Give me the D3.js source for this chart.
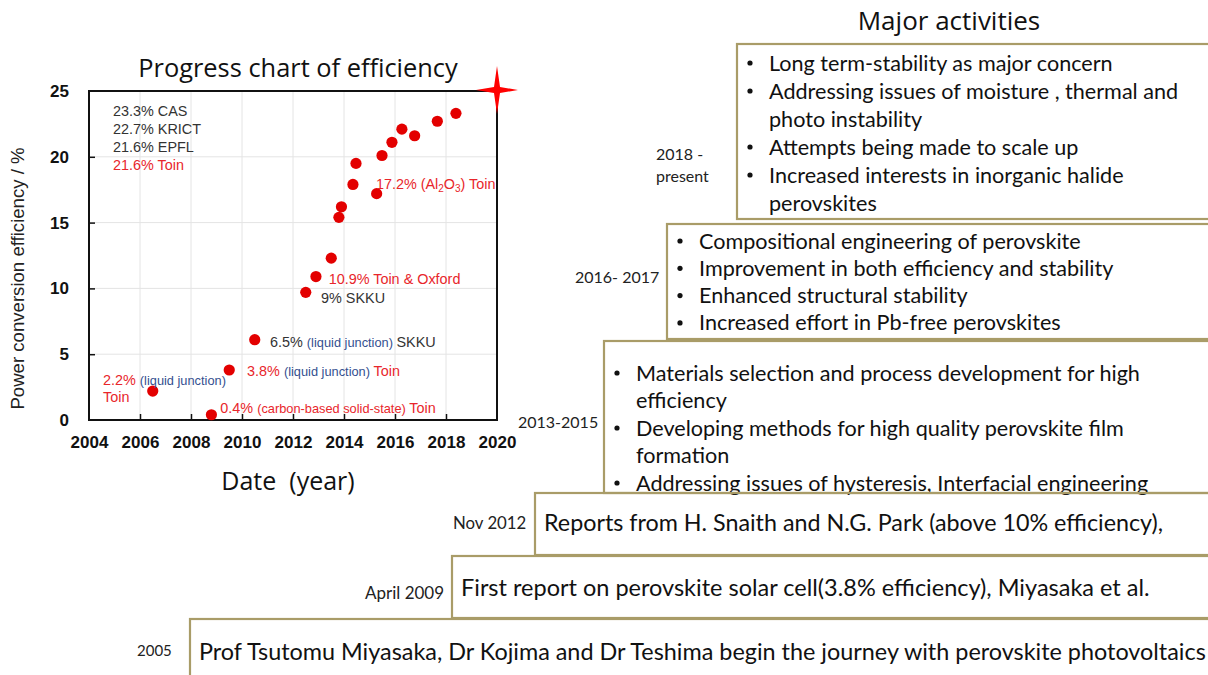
<!DOCTYPE html>
<html>
<head>
<meta charset="utf-8">
<script src="https://cdn.jsdelivr.net/npm/d3@7"></script>
<style>
  body { margin: 0; background: #fff; }
  svg { display: block; }
</style>
</head>
<body>
<script>
// efficiency records (year, %)
var years = [2006.5, 2008.8, 2009.5, 2010.5, 2012.5, 2012.9, 2013.5, 2013.8, 2013.9, 2014.35,
             2014.47, 2015.28, 2015.49, 2015.88, 2016.27, 2016.77, 2017.66, 2018.39];
var effs  = [2.2, 0.4, 3.8, 6.1, 9.7, 10.9, 12.3, 15.4, 16.2, 17.9,
             19.5, 17.2, 20.1, 21.1, 22.1, 21.6, 22.7, 23.3];

var xTicks = [2004, 2006, 2008, 2010, 2012, 2014, 2016, 2018, 2020];
var yTicks = [0, 5, 10, 15, 20, 25];

// record list in upper left corner
var records = ["23.3% CAS", "22.7% KRICT", "21.6% EPFL", "21.6% Toin"];
var recordRed = [false, false, false, true];

// annotations: [year, value, parts]  part = [text, kind]
var notes = [
  [2015.25, 17.9, [["17.2% (Al", "r"], ["2", "rsub"], ["O", "r"], ["3", "rsub"], [") Toin", "r"]]],
  [2013.4, 10.7, [["10.9% Toin & Oxford", "r"]]],
  [2013.1, 9.25, [["9% SKKU", "k"]]],
  [2011.1, 5.95, [["6.5% ", "k"], ["(liquid junction) ", "b"], ["SKKU", "k"]]],
  [2010.2, 3.7, [["3.8% ", "r"], ["(liquid junction) ", "b"], ["Toin", "r"]]],
  [2004.55, 3.05, [["2.2% ", "r"], ["(liquid junction)", "b"]]],
  [2004.55, 1.75, [["Toin", "r"]]],
  [2009.15, 0.9, [["0.4% ", "r"], ["(carbon-based solid-state) ", "rs"], ["Toin", "r"]]]
];

// timeline steps
var stepLabels = [["2018 -", "present"], ["2016- 2017"], ["2013-2015"], ["Nov 2012"], ["April 2009"], ["2005"]];
var stepLines = [
  [["Long term-stability as major concern", 1], ["Addressing issues of moisture , thermal and", 1],
   ["photo instability", 0], ["Attempts being made to scale up", 1],
   ["Increased interests in inorganic halide", 1], ["perovskites", 0]],
  [["Compositional engineering of perovskite", 1], ["Improvement in both efficiency and stability", 1],
   ["Enhanced structural stability", 1], ["Increased effort in Pb-free perovskites", 1]],
  [["Materials selection and process development for high", 1], ["efficiency", 0],
   ["Developing methods for high quality perovskite film", 1], ["formation", 0],
   ["Addressing issues of hysteresis, Interfacial engineering", 1]],
  [["Reports from H. Snaith and N.G. Park (above 10% efficiency),", 0]],
  [["First report on perovskite solar cell(3.8% efficiency), Miyasaka et al.", 0]],
  [["Prof Tsutomu Miyasaka, Dr Kojima and Dr Teshima begin the journey with perovskite photovoltaics", 0]]
];

var W = 1208, H = 675;
var svg = d3.select("body").append("svg").attr("width", W).attr("height", H);

// ---------- left chart ----------
var plot = {left: 89, right: 497, top: 91, bottom: 420};
var x = d3.scaleLinear().domain([2004, 2020]).range([plot.left, plot.right]);
var y = d3.scaleLinear().domain([0, 25]).range([plot.bottom, plot.top]);

var chartFont = "'Liberation Sans', Arial, sans-serif";

// grid
svg.append("g").selectAll("line").data(xTicks.slice(1, -1)).enter().append("line")
  .attr("x1", d => x(d)).attr("x2", d => x(d))
  .attr("y1", plot.top).attr("y2", plot.bottom)
  .attr("stroke", "#e4e4e4").attr("stroke-width", 1);
svg.append("g").selectAll("line").data(yTicks.slice(1, -1)).enter().append("line")
  .attr("x1", plot.left).attr("x2", plot.right)
  .attr("y1", d => y(d)).attr("y2", d => y(d))
  .attr("stroke", "#e4e4e4").attr("stroke-width", 1);

var xAxis = svg.append("g")
  .attr("transform", "translate(0," + plot.bottom + ")")
  .call(d3.axisBottom(x).tickValues(xTicks).tickFormat(d3.format("d")).tickSizeInner(-6).tickSizeOuter(0).tickPadding(16));
var yAxis = svg.append("g")
  .attr("transform", "translate(" + plot.left + ",0)")
  .call(d3.axisLeft(y).tickValues(yTicks).tickSizeInner(-6).tickSizeOuter(0).tickPadding(20));
[xAxis, yAxis].forEach(function(a) {
  a.select(".domain").remove();
  a.selectAll("line").attr("stroke", "#111").attr("stroke-width", 1.5);
  a.selectAll("text").attr("font-family", chartFont).attr("font-weight", "bold")
    .attr("font-size", 17).attr("fill", "#111");
});
xAxis.selectAll(".tick").filter(d => d === 2004 || d === 2020).select("line").remove();
yAxis.selectAll(".tick").filter(d => d === 0 || d === 25).select("line").remove();

// frame
svg.append("rect")
  .attr("x", plot.left).attr("y", plot.top)
  .attr("width", plot.right - plot.left).attr("height", plot.bottom - plot.top)
  .attr("fill", "none").attr("stroke", "#111").attr("stroke-width", 2);

// title and axis labels
svg.append("text").attr("x", 298).attr("y", 77).attr("text-anchor", "middle")
  .attr("font-family", "'Open Sans', sans-serif").attr("font-size", 25.4).attr("fill", "#111")
  .text("Progress chart of efficiency");
svg.append("text").attr("x", 288).attr("y", 490).attr("text-anchor", "middle")
  .attr("font-family", "'Open Sans', sans-serif").attr("font-size", 25).attr("fill", "#111")
  .attr("xml:space", "preserve").text("Date  (year)");
svg.append("text")
  .attr("transform", "translate(24," + ((plot.top + plot.bottom) / 2 + 23) + ") rotate(-90)")
  .attr("text-anchor", "middle")
  .attr("font-family", chartFont).attr("font-size", 18.6).attr("fill", "#222")
  .text("Power conversion efficiency / %");

// records block
svg.append("g").selectAll("text").data(records).enter().append("text")
  .attr("x", plot.left + 24).attr("y", (d, i) => plot.top + 25 + i * 18)
  .attr("font-family", chartFont).attr("font-size", 14.4)
  .attr("fill", (d, i) => recordRed[i] ? "#e8262b" : "#333")
  .text(d => d);

// points
svg.append("g").selectAll("circle").data(years).enter().append("circle")
  .attr("cx", d => x(d)).attr("cy", (d, i) => y(effs[i]))
  .attr("r", 5.6).attr("fill", "#e30000");

// annotations
var kindFill = {r: "#e8262b", rsub: "#e8262b", rs: "#e8262b", k: "#333", b: "#34508f"};
var kindSize = {r: 14.4, rsub: 10, rs: 12.8, k: 14.4, b: 12.8};
notes.forEach(function(n) {
  var t = svg.append("text").attr("x", x(n[0])).attr("y", y(n[1]) + 5)
    .attr("font-family", chartFont).attr("xml:space", "preserve");
  var prev = null;
  n[2].forEach(function(p) {
    var s = t.append("tspan").attr("fill", kindFill[p[1]]).attr("font-size", kindSize[p[1]]).text(p[0]);
    if (p[1] === "rsub") s.attr("dy", 3);
    else if (prev === "rsub") s.attr("dy", -3);
    prev = p[1];
  });
});

// red star at the top right corner
var sx = plot.right, sy = plot.top - 1;
svg.append("path")
  .attr("d", "M" + (sx - 21) + "," + sy + " L" + (sx - 3) + "," + (sy - 3) + " L" + sx + "," + (sy - 24) +
             " L" + (sx + 3) + "," + (sy - 3) + " L" + (sx + 21) + "," + sy + " L" + (sx + 3) + "," + (sy + 3) +
             " L" + sx + "," + (sy + 24) + " L" + (sx - 3) + "," + (sy + 3) + "Z")
  .attr("fill", "#ff0000");

// ---------- right timeline ----------
var boxFont = "Lato, 'Open Sans', sans-serif";
// box geometry: left, top, bottom, first line y, line step, label x, label y, font sizes
var boxes = [
  {x: 737, top: 44,  bottom: 219, y0: 63,  step: 28,   lx: 656, ly: 154, fs: 21.6, ls: 16},
  {x: 667, top: 224, bottom: 339, y0: 241, step: 27.3, lx: 575, ly: 277, fs: 21.6, ls: 16},
  {x: 604, top: 341, bottom: 493, y0: 373, step: 27.5, lx: 518, ly: 422, fs: 21.6, ls: 16},
  {x: 535, top: 493, bottom: 555, y0: 523, step: 0,    lx: 453, ly: 523, fs: 23.3, ls: 16.8},
  {x: 452, top: 556, bottom: 618, y0: 588, step: 0,    lx: 365, ly: 593, fs: 23.5, ls: 17},
  {x: 190, top: 619, bottom: 690, y0: 652, step: 0,    lx: 137, ly: 651, fs: 23.4, ls: 15}
];

svg.append("text").attr("x", 949).attr("y", 30).attr("text-anchor", "middle")
  .attr("font-family", "'Open Sans', sans-serif").attr("font-size", 26).attr("fill", "#111")
  .text("Major activities");

boxes.forEach(function(b, i) {
  svg.append("rect")
    .attr("x", b.x).attr("y", b.top).attr("width", W + 10 - b.x).attr("height", b.bottom - b.top)
    .attr("fill", i === 3 ? "none" : "#fff").attr("stroke", "#a99c68").attr("stroke-width", 2.2);
  var g = svg.append("g").attr("font-family", boxFont).attr("fill", "#111");
  var hasBullets = stepLines[i].some(l => l[1] === 1);
  stepLines[i].forEach(function(l, j) {
    var ty = b.y0 + j * b.step + b.fs * 0.35;
    if (l[1] === 1) {
      g.append("circle").attr("cx", b.x + 13).attr("cy", b.y0 + j * b.step).attr("r", 2.6).attr("fill", "#111");
    }
    g.append("text").attr("x", hasBullets ? b.x + 32 : b.x + 9).attr("y", ty)
      .attr("font-size", b.fs).text(l[0]);
  });
  svg.append("g").selectAll("text").data(stepLabels[i]).enter().append("text")
    .attr("x", b.lx).attr("y", (d, j) => b.ly + j * 22 + b.ls * 0.35)
    .attr("font-family", boxFont).attr("font-size", b.ls).attr("fill", "#222")
    .text(d => d);
});
</script>
</body>
</html>
